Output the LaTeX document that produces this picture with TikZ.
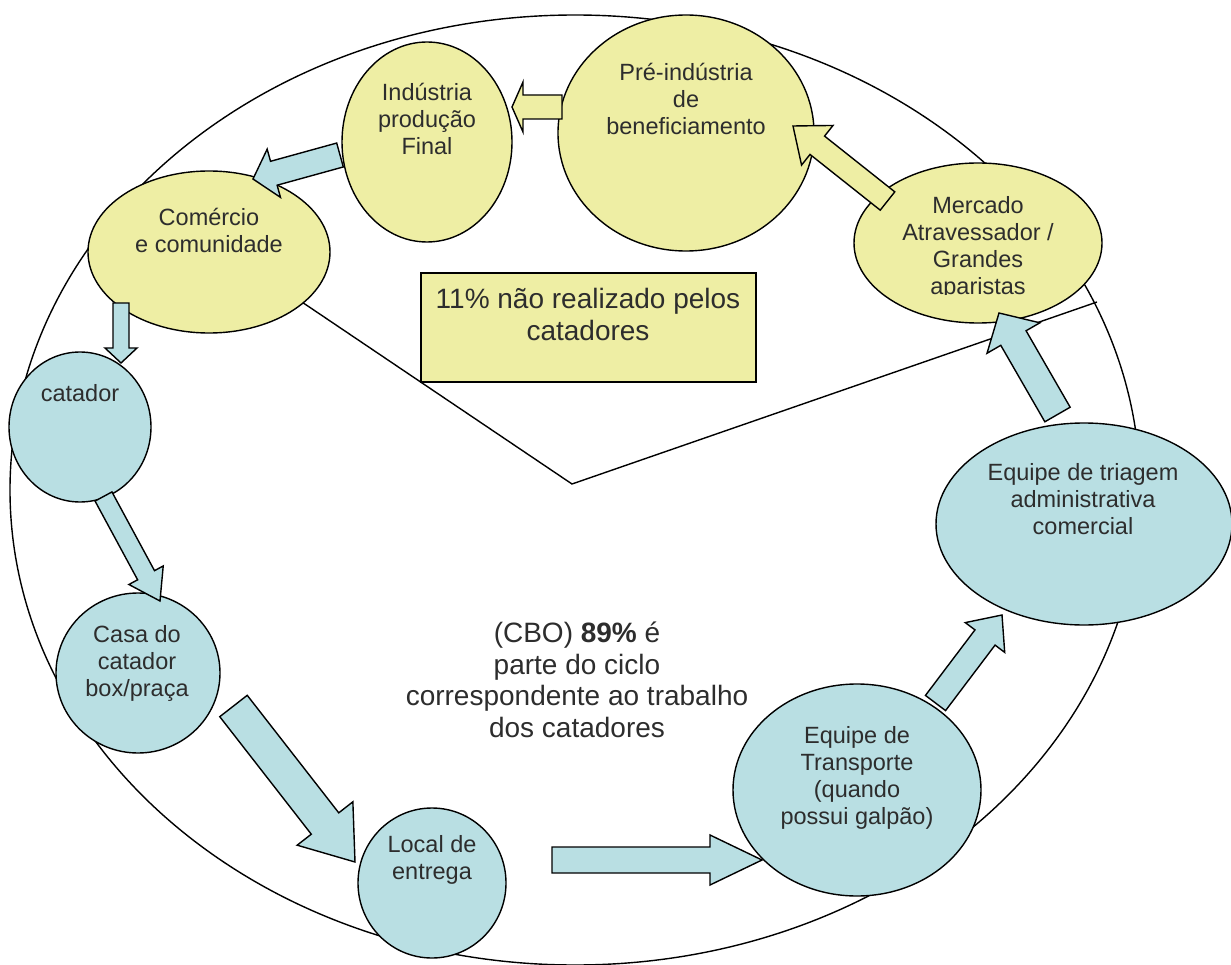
\documentclass[tikz,border=0pt]{standalone}
\usepackage{fontspec}
\setmainfont{Liberation Sans}
\usetikzlibrary{calc,shapes.geometric}
\definecolor{yel}{RGB}{238,238,164}
\definecolor{blu}{RGB}{185,223,227}
\definecolor{txt}{RGB}{45,45,45}
\tikzset{
 ell/.style={ellipse, draw=black, line width=1.4pt, inner sep=0pt, outer sep=0pt},
 yell/.style={ell, fill=yel},
 bell/.style={ell, fill=blu},
 lbl/.style={text=txt, align=center, font=\fontsize{23.5}{27}\selectfont, inner sep=0pt},
 biglbl/.style={text=txt, align=center, font=\fontsize{28}{32}\selectfont, inner sep=0pt},
 yarrow/.style={draw=black, line width=1.4pt, fill=yel},
 barrow/.style={draw=black, line width=1.4pt, fill=blu},
 thin line/.style={draw=black, line width=1.4pt},
}
\newcommand\blockarrow[6]{% style, tail, tip, shaft half width, head half width, head length
  \coordinate (ba-h) at ($(#3)!#6!(#2)$);
  \draw[#1] ($(#2)!#4!90:(#3)$) -- ($(ba-h)!#4!90:(#3)$) -- ($(ba-h)!#5!90:(#3)$) -- (#3)
    -- ($(ba-h)!#5!-90:(#3)$) -- ($(ba-h)!#4!-90:(#3)$) -- ($(#2)!#4!-90:(#3)$) -- cycle;
}
\begin{document}
\begin{tikzpicture}[x=1pt,y=-1pt]
\useasboundingbox (0,0) rectangle (1231,965);
% outer cycle
\draw[thin line] (575,490) ellipse [x radius=565pt, y radius=475pt];
% boundary of the 11% part
\coordinate (p1) at (290,294);
\coordinate (p2) at (572,484);
\coordinate (p3) at (1097,302);
\draw[thin line] (p1) -- (p2) -- (p3);

% ellipses
\node[yell, minimum width=170pt, minimum height=200pt] (ind) at (427,142) {};
\node[yell, minimum width=256pt, minimum height=236pt] (pre) at (686,133) {};
\node[yell, minimum width=248pt, minimum height=160pt] (merc) at (978,243) {};
\node[yell, minimum width=242pt, minimum height=162pt] (com) at (209,252) {};
\node[bell, minimum width=142pt, minimum height=150pt] (cat) at (80,427) {};
\node[bell, minimum width=164pt, minimum height=160pt] (casa) at (138,673) {};
\node[bell, minimum width=148pt, minimum height=150pt] (local) at (432,883) {};
\node[bell, minimum width=248pt, minimum height=212pt] (transp) at (857,790) {};
\node[bell, minimum width=296pt, minimum height=202pt] (triag) at (1084,524) {};

% box
\node[draw=black, line width=1.4pt, fill=yel, minimum width=335pt, minimum height=109pt, inner sep=0pt] (box) at (588.5,327.5) {};

% block arrows
\coordinate (a1s) at (562,107); \coordinate (a1e) at (512,107);
\blockarrow{yarrow}{a1s}{a1e}{12pt}{25pt}{11pt}
\coordinate (a2s) at (887.5,201); \coordinate (a2e) at (793,126);
\blockarrow{yarrow}{a2s}{a2e}{11.7pt}{25.3pt}{31pt}
\coordinate (a3s) at (340,155); \coordinate (a3e) at (253,179);
\blockarrow{barrow}{a3s}{a3e}{12.4pt}{25pt}{21.6pt}
\coordinate (a4s) at (121,303); \coordinate (a4e) at (121,363);
\blockarrow{barrow}{a4s}{a4e}{8pt}{16pt}{15pt}
\coordinate (a5s) at (103.5,496.5); \coordinate (a5e) at (160,601);
\blockarrow{barrow}{a5s}{a5e}{9.6pt}{19.5pt}{29.3pt}
\coordinate (a6s) at (233.5,706); \coordinate (a6e) at (355,862);
\blockarrow{barrow}{a6s}{a6e}{17.4pt}{35.3pt}{48.8pt}
\coordinate (a7s) at (552,860); \coordinate (a7e) at (762,860);
\blockarrow{barrow}{a7s}{a7e}{13pt}{25pt}{52pt}
\coordinate (a8s) at (935.5,703); \coordinate (a8e) at (1002,615);
\blockarrow{barrow}{a8s}{a8e}{12.6pt}{24.7pt}{28.2pt}
\coordinate (a9s) at (1057.5,414.5); \coordinate (a9e) at (999,313);
\blockarrow{barrow}{a9s}{a9e}{14.6pt}{30.5pt}{28.9pt}

% texts
\node[lbl] (ind-t) at (427,119) {Indústria\\produção\\Final};
\node[lbl] (pre-t) at (686,99) {Pré-indústria\\de\\beneficiamento};
\begin{scope}
\clip (850,150) rectangle (1110,295);
\node[lbl] (merc-t) at (978,248) {Mercado\\Atravessador /\\Grandes\\aparistas};
\end{scope}
\node[lbl] (com-t) at (209,230) {Comércio\\e comunidade};
\node[lbl] (cat-t) at (80,393) {catador};
\node[lbl] (casa-t) at (137,663) {Casa do\\catador\\box/praça};
\node[lbl] (local-t) at (432,860) {Local de\\entrega};
\node[lbl] (transp-t) at (857,778) {Equipe de\\Transporte\\(quando\\possui galpão)};
\node[lbl] (triag-t) at (1083,499) {Equipe de triagem\\administrativa\\comercial};
\node[biglbl] (box-t) at (588,314) {11\% não realizado pelos\\catadores};
\node[biglbl, font=\fontsize{28}{31.5}\selectfont] (cbo-t) at (577,680) {(CBO) \textbf{89\%} é\\parte do ciclo\\correspondente ao trabalho\\dos catadores};
\end{tikzpicture}
\end{document}
